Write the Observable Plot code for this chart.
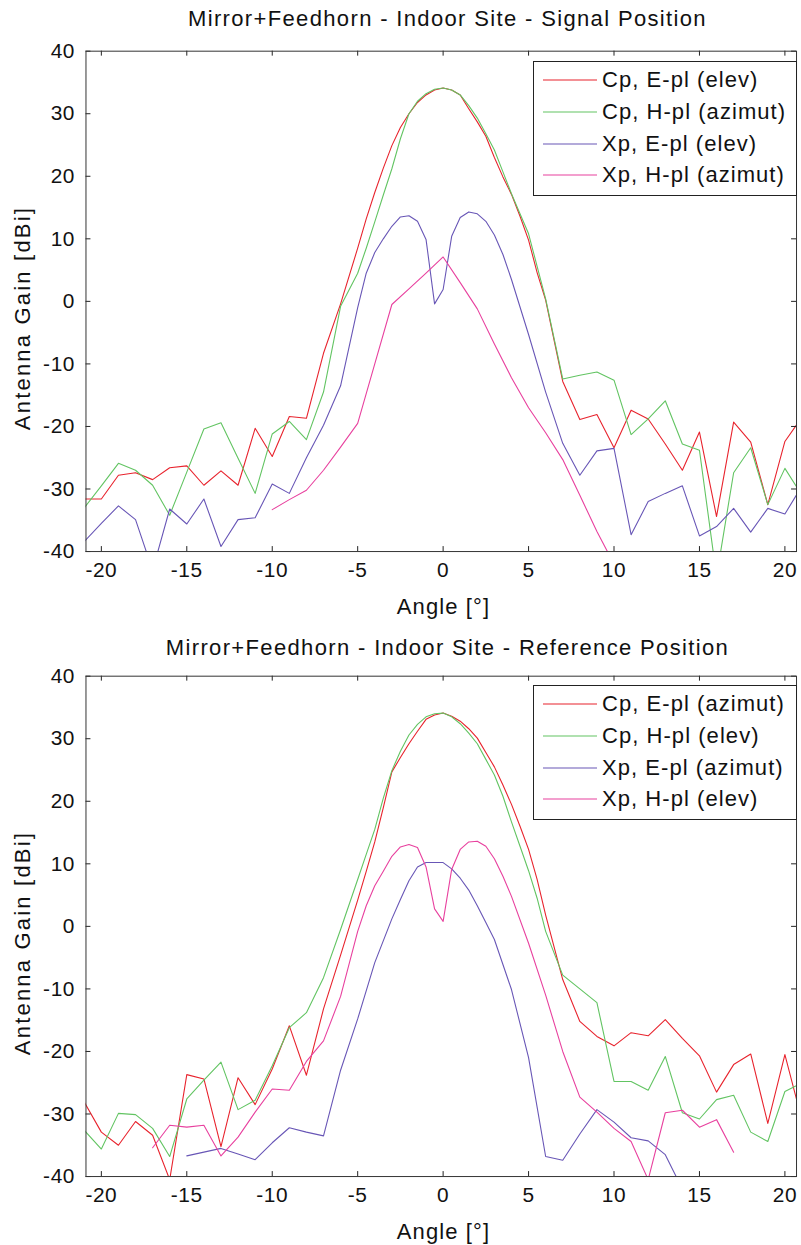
<!DOCTYPE html>
<html><head><meta charset="utf-8">
<script src="https://cdn.jsdelivr.net/npm/d3@7"></script>
<script src="https://cdn.jsdelivr.net/npm/@observablehq/plot@0.6"></script>
<style>
html,body{margin:0;padding:0;background:#fff;overflow:hidden}
#wrap{position:relative;width:801px;height:1245px;overflow:hidden;font-family:"Liberation Sans",Arial,sans-serif;color:#111}
.abs{position:absolute}
.title{position:absolute;left:90px;width:715px;text-align:center;font-size:22px;letter-spacing:1.35px;white-space:nowrap}
.xlab{position:absolute;left:86px;width:715px;text-align:center;font-size:22px;letter-spacing:1.1px;white-space:nowrap}
.ylab{position:absolute;font-size:22px;letter-spacing:2.2px;white-space:nowrap;transform:translate(-50%,-50%) rotate(-90deg)}
.legend{position:absolute;border:1px solid #222;background:#fff;box-sizing:border-box}
.row{position:absolute;left:0;height:32px;display:flex;align-items:center;font-size:22px;letter-spacing:1.05px;white-space:nowrap}
.sw{display:block;margin-left:9px;margin-right:5px}
</style>
</head><body><div id="wrap"></div>
<script>
// ---------------- labels and ticks ----------------
const topTitle = "Mirror+Feedhorn - Indoor Site - Signal Position";
const botTitle = "Mirror+Feedhorn - Indoor Site - Reference Position";
const xLabel = "Angle [°]";
const yLabel = "Antenna Gain [dBi]";
const xTicks = [-20, -15, -10, -5, 0, 5, 10, 15, 20];
const yTicks = [-40, -30, -20, -10, 0, 10, 20, 30, 40];
const xDomain = [-20.9, 20.68];
const yDomain = [-40, 40];

const topNames = ["Cp, E-pl (elev)", "Cp, H-pl (azimut)", "Xp, E-pl (elev)", "Xp, H-pl (azimut)"];
const botNames = ["Cp, E-pl (azimut)", "Cp, H-pl (elev)", "Xp, E-pl (azimut)", "Xp, H-pl (elev)"];
const colors = ["#e8232d", "#62c462", "#6856b6", "#e8409e"];

// ---------------- data: top panel (Signal Position) ----------------
const topCpE_x = [-21,-20,-19,-18,-17,-16,-15,-14,-13,-12,-11,-10,-9,-8,-7,-6,-5,-4.5,-4,-3.5,-3,-2.5,-2,-1.5,-1,-0.5,0,0.5,1,1.5,2,2.5,3,3.5,4,4.5,5,5.5,6,7,8,9,10,11,12,13,14,15,16,17,18,19,20,21];
const topCpE_y = [-31.6,-31.6,-27.8,-27.4,-28.5,-26.6,-26.3,-29.4,-27.1,-29.4,-20.3,-24.8,-18.4,-18.7,-8.3,-0.4,8.5,13.2,17.4,21.3,24.9,27.8,30,31.8,33,33.8,34.1,33.8,33,30.8,28.7,26.4,23,19.9,17.1,13.6,9.8,4.6,0.2,-12.8,-18.9,-18.1,-23.4,-17.4,-18.8,-22.8,-27,-20.9,-34.4,-19.3,-22.5,-32.5,-22.4,-18.5];

const topCpH_x = [-21,-20,-19,-18,-17,-16,-15,-14,-13,-12,-11,-10,-9,-8,-7,-6,-5,-4.5,-4,-3.5,-3,-2.5,-2,-1.5,-1,-0.5,0,0.5,1,1.5,2,2.5,3,3.5,4,4.5,5,5.5,6,7,8,9,10,11,12,13,14,15,16,17,18,19,20,21];
const topCpH_y = [-33,-29.5,-25.9,-27,-29.4,-34.2,-27.3,-20.4,-19.4,-25.1,-30.7,-21.2,-19.2,-22.1,-14.5,-0.8,4.5,8.5,12.7,17,21.2,26,30,32,33.2,33.9,34.1,33.8,33,31.3,29.3,26.8,24.2,20.7,17.2,14,10.8,5.6,0.4,-12.4,-11.8,-11.3,-12.6,-21.3,-18.8,-15.9,-22.8,-23.8,-44,-27.4,-23.4,-32.5,-26.7,-31];

const topXpE_x = [-21,-20,-19,-18,-17,-16,-15,-14,-13,-12,-11,-10,-9,-8,-7,-6,-5,-4.5,-4,-3.5,-3,-2.5,-2,-1.5,-1,-0.5,0,0.5,1,1.5,2,2.5,3,3.5,4,5,6,7,8,9,10,11,12,13,14,15,16,17,18,19,20,21];
const topXpE_y = [-38.4,-35.5,-32.7,-34.9,-43,-33.2,-35.6,-31.6,-39.2,-34.9,-34.6,-29.2,-30.7,-25,-19.8,-13.5,-1,4.5,7.8,10,12,13.5,13.7,12.8,9.9,-0.4,1.9,10.4,13.4,14.3,14,12.8,10.6,7.5,3.5,-5.3,-14.5,-22.7,-27.8,-23.9,-23.5,-37.3,-32,-30.7,-29.5,-37.5,-36,-33.1,-36.9,-33.1,-34,-29.5];

const topXpH_x = [-10,-9,-8,-7,-6,-5,-4,-3,-2,-1,0,1,2,3,4,5,6,7,8,9,10];
const topXpH_y = [-33.3,-31.7,-30.2,-27,-23.3,-19.5,-10,-0.5,2,4.5,7.1,3,-1.2,-6.8,-12.2,-17,-21,-25.3,-31,-36.8,-42];

// ---------------- data: bottom panel (Reference Position) ----------------
const botCpE_x = [-21,-20,-19,-18,-17,-16,-15,-14,-13,-12,-11,-10,-9,-8,-7,-6,-5,-4.5,-4,-3.5,-3,-2.5,-2,-1.5,-1,-0.5,0,0.5,1,1.5,2,2.5,3,3.5,4,4.5,5,5.5,6,7,8,9,10,11,12,13,14,15,16,17,18,19,20,21];
const botCpE_y = [-28.1,-32.9,-35,-31.2,-33.4,-40.5,-23.7,-24.4,-35.2,-24.2,-28.5,-22.8,-15.9,-23.8,-13.2,-4.6,4.2,8.8,13.5,19,24.7,27,29.2,31.2,33.1,33.8,34.1,33.6,32.8,31.6,30.1,27.8,25.5,22.6,19.5,16,12.3,7.5,1.8,-8.5,-15.2,-17.6,-19.1,-17,-17.5,-14.9,-17.9,-20.7,-26.5,-22.1,-20.4,-31.5,-20.5,-31];

const botCpH_x = [-21,-20,-19,-18,-17,-16,-15,-14,-13,-12,-11,-10,-9,-8,-7,-6,-5,-4.5,-4,-3.5,-3,-2.5,-2,-1.5,-1,-0.5,0,0.5,1,1.5,2,2.5,3,3.5,4,4.5,5,5.5,6,7,8,9,10,11,12,13,14,15,16,17,18,19,20,21];
const botCpH_y = [-32.6,-35.6,-29.9,-30.1,-32.3,-36.8,-27.6,-24.6,-21.7,-29.3,-27.8,-22.3,-16.2,-13.8,-8.2,-0.5,7.5,11.5,15.5,20.5,24.9,28,30.6,32.3,33.5,34,34.1,33.5,32.4,30.9,29.2,26.7,24.2,20.8,16.7,12.8,8.9,4.5,-0.8,-7.8,-10,-12.2,-24.8,-24.8,-26.2,-20.8,-29.8,-30.8,-27.7,-27,-32.9,-34.4,-26.4,-25];

const botXpE_x = [-15,-14,-13,-12,-11,-10,-9,-8,-7,-6,-5,-4,-3,-2.5,-2,-1.5,-1,-0.5,0,0.5,1,1.5,2,2.5,3,4,5,6,7,8,9,10,11,12,13,14];
const botXpE_y = [-36.7,-36.1,-35.5,-36.4,-37.3,-34.6,-32.2,-32.9,-33.5,-23,-14.8,-5.8,1.2,4.3,7.3,9.5,10.2,10.2,10.2,9.2,7.7,5.8,3.3,0.6,-2.1,-10.1,-21,-36.8,-37.4,-33.2,-29.3,-31.3,-33.8,-34.3,-36.5,-42];

const botXpH_x = [-17,-16,-15,-14,-13,-12,-11,-10,-9,-8,-7,-6,-5,-4.5,-4,-3.5,-3,-2.5,-2,-1.5,-1,-0.5,0,0.5,1,1.5,2,2.5,3,3.5,4,5,6,7,8,9,10,11,12,13,14,15,16,17];
const botXpH_y = [-35.4,-31.8,-32.1,-31.8,-36.7,-33.7,-29.7,-26,-26.2,-21.6,-18.3,-11.2,-0.8,3.3,6.5,8.8,11.2,12.7,13.1,12.6,9.5,2.8,0.8,9.1,12.3,13.5,13.6,12.8,10.8,8,4.8,-2.7,-11,-20,-27.3,-29.7,-32.3,-34.4,-40.5,-29.8,-29.4,-32.1,-30.9,-36.1];

// ---------------- build ----------------
const W = 806, ML = 86, MR = 5, MT = 51, INNER_H = 503.5, MB = 45.5;
const INNER_W = W - ML - MR;
const FS = 21;
const SVGNS = "http://www.w3.org/2000/svg";

function toRows(xs, ys, s) { return xs.map((x, i) => ({x, y: ys[i], s})); }

function panel(series, names) {
  const data = series.flatMap(([xs, ys], i) => toRows(xs, ys, names[i]));
  return Plot.plot({
    width: W, height: MT + INNER_H + MB,
    marginLeft: ML, marginRight: MR, marginTop: MT, marginBottom: MB,
    style: {fontFamily: "Liberation Sans, Arial, sans-serif", fontSize: FS + "px", color: "#111", background: "transparent", overflow: "visible", letterSpacing: "0.6px"},
    x: {domain: xDomain, label: null},
    y: {domain: yDomain, label: null},
    color: {domain: names, range: colors},
    marks: [
      Plot.line(data, {x: "x", y: "y", z: "s", stroke: "s", strokeWidth: 1.1, clip: true}),
      Plot.tickX(xTicks, {x: d => d, insetTop: INNER_H - 5, stroke: "#222"}),
      Plot.tickX(xTicks, {x: d => d, insetBottom: INNER_H - 5, stroke: "#222"}),
      Plot.tickY(yTicks, {y: d => d, insetRight: INNER_W - 5, stroke: "#222"}),
      Plot.tickY(yTicks, {y: d => d, insetLeft: INNER_W - 5, stroke: "#222"}),
      Plot.axisX({ticks: xTicks, tickSize: 0, tickPadding: 11, tickFormat: d => String(d), label: null, fill: "#111"}),
      Plot.axisY({ticks: yTicks, tickSize: 0, tickPadding: 11, tickFormat: d => String(d), label: null, fill: "#111"}),
      Plot.frame({stroke: "#333"})
    ]
  });
}

function swatch(color) {
  const s = document.createElementNS(SVGNS, "svg");
  s.setAttribute("width", "54"); s.setAttribute("height", "6");
  s.setAttribute("class", "sw");
  const l = document.createElementNS(SVGNS, "line");
  l.setAttribute("x1", "0"); l.setAttribute("x2", "54");
  l.setAttribute("y1", "3"); l.setAttribute("y2", "3");
  l.setAttribute("stroke", color); l.setAttribute("stroke-width", "1.2");
  s.appendChild(l);
  return s;
}

const wrap = document.getElementById("wrap");
function addPanel(top, series, names, title, titleTop, legendTop) {
  const svg = panel(series, names);
  const holder = document.createElement("div");
  holder.className = "abs";
  holder.style.left = "0px"; holder.style.top = top + "px";
  holder.appendChild(svg);
  wrap.appendChild(holder);

  const t = document.createElement("div");
  t.className = "title"; t.style.top = (top + titleTop) + "px"; t.textContent = title;
  wrap.appendChild(t);

  const xl = document.createElement("div");
  xl.className = "xlab"; xl.style.top = (top + MT + INNER_H + 39) + "px"; xl.textContent = xLabel;
  wrap.appendChild(xl);

  const yl = document.createElement("div");
  yl.className = "ylab"; yl.style.left = "23px"; yl.style.top = (top + MT + INNER_H / 2 + 15) + "px"; yl.textContent = yLabel;
  wrap.appendChild(yl);

  const lg = document.createElement("div");
  lg.className = "legend";
  lg.style.left = "533px"; lg.style.top = (top + legendTop) + "px";
  lg.style.width = "264px"; lg.style.height = "135px";
  names.forEach((n, i) => {
    const r = document.createElement("div");
    r.className = "row"; r.style.top = (2 + i * 31.8) + "px";
    const tx = document.createElement("span"); tx.textContent = n;
    r.appendChild(swatch(colors[i])); r.appendChild(tx); lg.appendChild(r);
  });
  wrap.appendChild(lg);
}

addPanel(0, [[topCpE_x, topCpE_y], [topCpH_x, topCpH_y], [topXpE_x, topXpE_y], [topXpH_x, topXpH_y]], topNames, topTitle, 6, 61);
addPanel(625, [[botCpE_x, botCpE_y], [botCpH_x, botCpH_y], [botXpE_x, botXpE_y], [botXpH_x, botXpH_y]], botNames, botTitle, 10, 60);
</script>
</body></html>
